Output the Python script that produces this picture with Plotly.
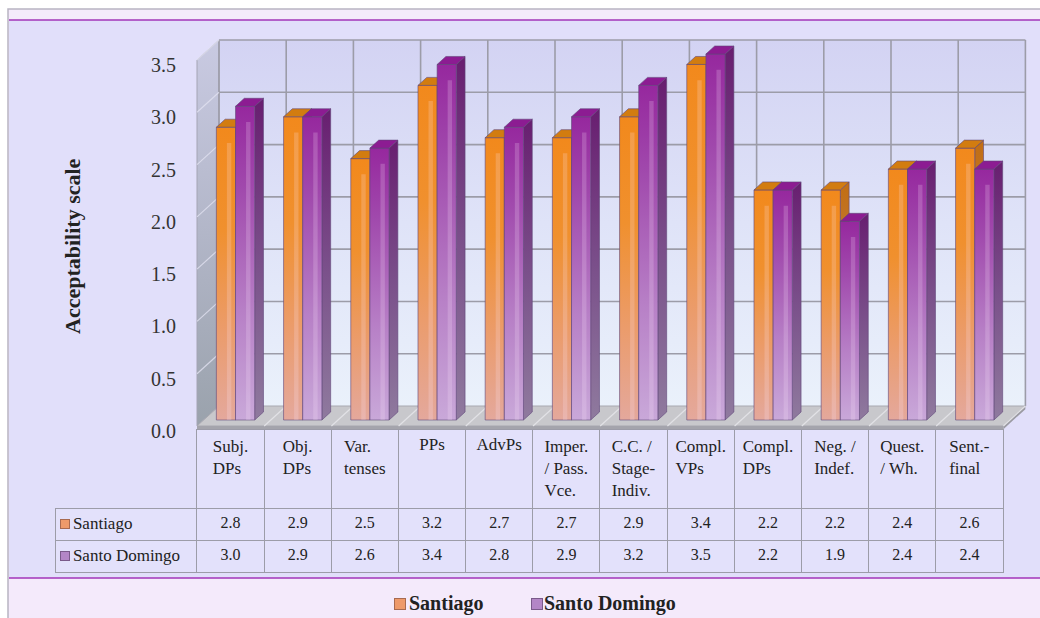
import plotly.graph_objects as go

# ---- data -------------------------------------------------------------
categories = ["Subj.<br>DPs", "Obj.<br>DPs", "Var.<br>tenses", "PPs", "AdvPs",
              "Imper.<br>/ Pass.<br>Vce.", "C.C. /<br>Stage-<br>Indiv.",
              "Compl.<br>VPs", "Compl.<br>DPs", "Neg. /<br>Indef.",
              "Quest.<br>/ Wh.", "Sent.-<br>final"]
santiago = [2.8, 2.9, 2.5, 3.2, 2.7, 2.7, 2.9, 3.4, 2.2, 2.2, 2.4, 2.6]
santo_domingo = [3.0, 2.9, 2.6, 3.4, 2.8, 2.9, 3.2, 3.5, 2.2, 1.9, 2.4, 2.4]
series_names = ["Santiago", "Santo Domingo"]
y_ticks = [0.0, 0.5, 1.0, 1.5, 2.0, 2.5, 3.0, 3.5]
y_title = "Acceptability scale"

# ---- canvas geometry (pixels) ----------------------------------------
W, H = 1040, 618
PX_CAT = 67.2            # pixels per category
PX_VAL = 104.57          # pixels per scale unit
X0_PX = 197              # left edge of first category (front plane)
Y0_PX = 426              # value 0 on the front plane
DX = 22 / PX_CAT         # depth offset of the back wall, in x units
DY = 20 / PX_VAL         # depth offset of the back wall, in y units
N = len(categories)
YMAX = y_ticks[-1]

SERIF = "Liberation Serif, Times New Roman, serif"

# bar slots inside a category and depth range of the bars
slots = [(0.19, 0.475), (0.475, 0.76)]
F0, F1 = 0.30, 0.70

front_scales = [
    [[0, "#e4a89c"], [0.3, "#eb9c6c"], [0.65, "#f0902e"], [1, "#f2891c"]],
    [[0, "#c9a8d9"], [0.35, "#b77fc6"], [0.75, "#a048ac"], [1, "#96289e"]],
]
side_scales = [
    [[0, "#b98f88"], [1, "#c26e12"]],
    [[0, "#8f7a9e"], [0.5, "#7a4f8a"], [1, "#681e70"]],
]
top_colors = ["#d27c10", "#8c1c92"]
edge_color = "rgba(95,70,120,0.75)"
swatch_fill = ["#ee9a6a", "#b386c6"]
swatch_edge = ["#a86a50", "#7a5a8a"]


def proj(u, v, f):
    return u + f * DX, v + f * DY


def poly(points):
    xs, ys = zip(*points)
    return list(xs) + [xs[0]], list(ys) + [ys[0]]


fig = go.Figure()


def add_face(points, fillcolor=None, scale=None, line_color="rgba(0,0,0,0)", width=0.0):
    xs, ys = poly(points)
    kw = dict(x=xs, y=ys, mode="lines", fill="toself", hoverinfo="skip",
              showlegend=False, line=dict(color=line_color, width=width))
    if scale is not None:
        kw["fillgradient"] = dict(type="vertical", colorscale=scale)
        kw["fillcolor"] = scale[-1][1]
    else:
        kw["fillcolor"] = fillcolor
    fig.add_trace(go.Scatter(**kw))


def add_lines(segments, color, width):
    xs, ys = [], []
    for (x1, y1), (x2, y2) in segments:
        xs += [x1, x2, None]
        ys += [y1, y2, None]
    fig.add_trace(go.Scatter(x=xs, y=ys, mode="lines", hoverinfo="skip",
                             showlegend=False, line=dict(color=color, width=width)))


# ---- walls and floor --------------------------------------------------
add_face([proj(0, 0, 1), proj(N, 0, 1), proj(N, YMAX, 1), proj(0, YMAX, 1)],
         scale=[[0, "#eaf1fb"], [0.5, "#dfe3f8"], [1, "#d3d3f3"]])
add_face([proj(0, 0, 0), proj(0, 0, 1), proj(0, YMAX, 1), proj(0, YMAX, 0)],
         scale=[[0, "#9aa2ac"], [0.5, "#b2b6c8"], [1, "#c9cae2"]],
         line_color="#a4a4b4", width=1)
add_face([proj(0, 0, 0), proj(N, 0, 0), proj(N, 0, 1), proj(0, 0, 1)],
         fillcolor="#c8c8cc", line_color="#a8a8b0", width=1)
add_face([proj(0, -0.03, 0), proj(N, -0.03, 0), proj(N, 0, 0), proj(0, 0, 0)],
         fillcolor="#a4a4ac")
add_face([proj(N, -0.03, 0), proj(N, -0.03, 1), proj(N, 0, 1), proj(N, 0, 0)],
         fillcolor="#9a9aa2")

# grid on back wall, side wall and floor
grid = "#9c9ca8"
add_lines([(proj(0, v, 1), proj(N, v, 1)) for v in y_ticks[1:]], grid, 1.6)
add_lines([(proj(k, 0, 1), proj(k, YMAX, 1)) for k in range(N + 1)], grid, 1.6)
add_lines([(proj(0, v, 0), proj(0, v, 1)) for v in y_ticks[1:]], "rgba(225,225,240,0.8)", 1.2)
add_lines([(proj(k, 0, 0), proj(k, 0, 1)) for k in range(1, N + 1)], "#e2e2e6", 1.2)

# ---- 3-D bars ---------------------------------------------------------
for i in range(N):
    for s, values in enumerate([santiago, santo_domingo]):
        v = values[i]
        a, b = i + slots[s][0], i + slots[s][1]
        add_face([proj(b, 0, F0), proj(b, 0, F1), proj(b, v, F1), proj(b, v, F0)],
                 scale=side_scales[s], line_color=edge_color, width=0.8)
        add_face([proj(a, 0, F0), proj(b, 0, F0), proj(b, v, F0), proj(a, v, F0)],
                 scale=front_scales[s], line_color=edge_color, width=0.8)
        # soft vertical highlight on the front face
        ha, hb = a + 0.55 * (b - a), a + 0.78 * (b - a)
        add_face([proj(ha, 0, F0), proj(hb, 0, F0), proj(hb, v - 0.15, F0), proj(ha, v - 0.15, F0)],
                 fillcolor="rgba(255,235,255,0.2)")
        add_face([proj(a, v, F0), proj(b, v, F0), proj(b, v, F1), proj(a, v, F1)],
                 fillcolor=top_colors[s], line_color=edge_color, width=0.8)

# ---- data table under the plot ----------------------------------------
line_col = "#9c9ca8"
cell_fill = "#e3e1fb"
TABLE_TOP, HEADER_H, ROW_H = 429, 79, 32
row_labels = ["\u2002\u200a" + name for name in series_names]
cell_values = [row_labels] + [["%.1f" % santiago[i], "%.1f" % santo_domingo[i]]
                              for i in range(N)]
fig.add_trace(go.Table(
    domain=dict(x=[55 / W, (X0_PX + N * PX_CAT) / W],
                y=[1 - (TABLE_TOP + HEADER_H + 2 * ROW_H + 2) / H, 1 - TABLE_TOP / H]),
    columnwidth=[142] + [PX_CAT] * N,
    header=dict(values=[""] + categories, height=HEADER_H, align="center",
                font=dict(family=[SERIF] * (N + 1), size=17, color="#222"),
                fill=dict(color=["rgba(0,0,0,0)"] + [cell_fill] * N),
                line=dict(color=["rgba(0,0,0,0)"] + [line_col] * N, width=1)),
    cells=dict(values=cell_values, height=ROW_H,
               align=["left"] + ["center"] * N,
               font=dict(family=[SERIF] * (N + 1), size=[17] + [16] * N, color="#222"),
               fill=dict(color=cell_fill),
               line=dict(color=line_col, width=1)),
))

# ---- frame, axis title and legend -------------------------------------
shapes = [
    dict(type="rect", xref="paper", yref="paper", x0=8 / W, x1=1.01, y0=-0.01, y1=1 - 9 / H,
         fillcolor="#f4eafb", line=dict(color="#b8b4c2", width=1.5), layer="below"),
    dict(type="rect", xref="paper", yref="paper", x0=9 / W, x1=1.01, y0=1 - 578 / H, y1=1 - 20 / H,
         fillcolor="#e1dffa", line=dict(width=0), layer="below"),
    dict(type="line", xref="paper", yref="paper", x0=9 / W, x1=1.01, y0=1 - 20 / H, y1=1 - 20 / H,
         line=dict(color="#a234b8", width=1.5), layer="below"),
    dict(type="line", xref="paper", yref="paper", x0=9 / W, x1=1.01, y0=1 - 578 / H, y1=1 - 578 / H,
         line=dict(color="#a234b8", width=1.5), layer="below"),
]

annotations = [
    dict(text="<b>%s</b>" % y_title, xref="paper", yref="paper", x=72 / W, y=1 - 246 / H,
         xanchor="center", yanchor="middle",
         textangle=-90, showarrow=False, font=dict(family=SERIF, size=22, color="#222")),
]


def swatch(k, cx, cy, size):
    return dict(text=" ", xref="paper", yref="paper", x=cx / W, y=1 - cy / H,
                xanchor="center", yanchor="middle", showarrow=False,
                width=size, height=size, borderpad=0, borderwidth=1,
                bgcolor=swatch_fill[k], bordercolor=swatch_edge[k],
                font=dict(size=4))


# swatches in the table's row labels
for k in range(2):
    annotations.append(swatch(k, 64.5, TABLE_TOP + HEADER_H + ROW_H * (k + 0.5), 8))

# legend below the table
legend_sq = [399.5, 536.5]
legend_text = [407, 542]
for k, name in enumerate(series_names):
    annotations.append(swatch(k, legend_sq[k], 603.5, 10))
    annotations.append(dict(
        text="<b>%s</b>" % name, xref="paper", yref="paper",
        x=legend_text[k] / W, y=1 - 603 / H, xanchor="left", yanchor="middle",
        showarrow=False, font=dict(family=SERIF, size=20, color="#222")))

fig.update_layout(
    width=W, height=H,
    margin=dict(l=0, r=0, t=0, b=0),
    paper_bgcolor="white", plot_bgcolor="rgba(0,0,0,0)",
    showlegend=False,
    shapes=shapes, annotations=annotations,
    xaxis=dict(range=[-X0_PX / PX_CAT, (W - X0_PX) / PX_CAT], domain=[0, 1],
               visible=False, fixedrange=True),
    yaxis=dict(range=[-(H - Y0_PX) / PX_VAL, Y0_PX / PX_VAL], domain=[0, 1],
               anchor="free", position=X0_PX / W, automargin=False,
               tickvals=y_ticks, ticktext=["%.1f" % t for t in y_ticks],
               ticks="outside", ticklen=17, tickcolor="rgba(0,0,0,0)",
               ticklabelshift=5,
               showgrid=False, zeroline=False, showline=False, fixedrange=True,
               tickfont=dict(family=SERIF, size=20, color="#333")),
)

fig.write_html("out.html")
